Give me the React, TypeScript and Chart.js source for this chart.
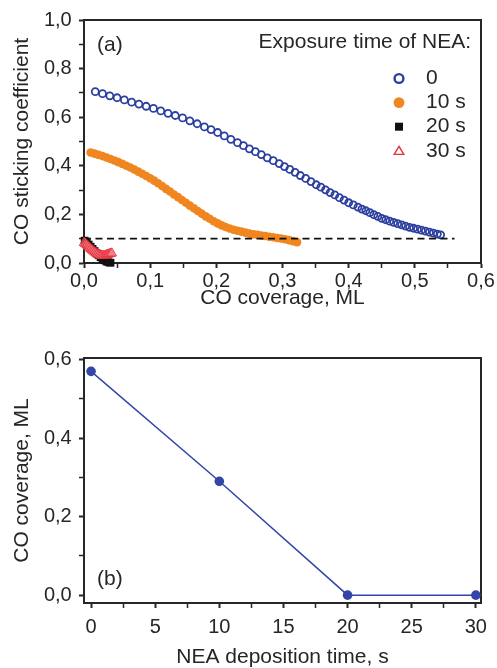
import React, { useEffect, useRef } from 'react';
import { Chart, registerables } from 'chart.js';

Chart.register(...registerables);

const FONT = '"Liberation Sans", Arial, sans-serif';
const INK = '#262626';

// (a) CO sticking coefficient versus CO coverage, for each NEA exposure time
const exposureLabels = ['0', '10 s', '20 s', '30 s'];
const legendTitle = 'Exposure time of NEA:';

const coverage0 = [0.017, 0.028, 0.039, 0.050, 0.061, 0.072, 0.083, 0.094, 0.105, 0.116, 0.127, 0.138, 0.149, 0.160, 0.171, 0.182, 0.192, 0.202, 0.212, 0.222, 0.232, 0.241, 0.250, 0.259, 0.268, 0.277, 0.286, 0.295, 0.303, 0.311, 0.319, 0.327, 0.335, 0.343, 0.351, 0.358, 0.365, 0.372, 0.379, 0.386, 0.393, 0.400, 0.407, 0.414, 0.420, 0.426, 0.432, 0.438, 0.444, 0.450, 0.456, 0.462, 0.468, 0.474, 0.480, 0.486, 0.492, 0.498, 0.504, 0.510, 0.516, 0.522, 0.528, 0.534, 0.539];
const sticking0 = [0.705, 0.697, 0.688, 0.680, 0.671, 0.662, 0.654, 0.645, 0.636, 0.626, 0.616, 0.607, 0.597, 0.585, 0.573, 0.560, 0.549, 0.537, 0.523, 0.509, 0.495, 0.483, 0.470, 0.458, 0.446, 0.433, 0.421, 0.409, 0.397, 0.385, 0.373, 0.360, 0.348, 0.335, 0.322, 0.312, 0.301, 0.290, 0.280, 0.269, 0.259, 0.248, 0.239, 0.230, 0.222, 0.215, 0.207, 0.199, 0.192, 0.184, 0.178, 0.172, 0.167, 0.162, 0.157, 0.152, 0.147, 0.143, 0.139, 0.135, 0.131, 0.127, 0.123, 0.119, 0.116];

const coverage10 = [0.010, 0.016, 0.022, 0.028, 0.034, 0.040, 0.046, 0.052, 0.058, 0.064, 0.070, 0.076, 0.082, 0.088, 0.094, 0.100, 0.106, 0.112, 0.118, 0.124, 0.130, 0.136, 0.142, 0.148, 0.154, 0.160, 0.166, 0.172, 0.178, 0.184, 0.190, 0.196, 0.202, 0.208, 0.214, 0.220, 0.226, 0.232, 0.238, 0.244, 0.250, 0.256, 0.262, 0.268, 0.274, 0.280, 0.286, 0.292, 0.298, 0.304, 0.310, 0.316, 0.322];
const sticking10 = [0.455, 0.450, 0.445, 0.440, 0.434, 0.428, 0.422, 0.415, 0.408, 0.400, 0.393, 0.385, 0.376, 0.367, 0.358, 0.349, 0.339, 0.328, 0.317, 0.305, 0.294, 0.282, 0.271, 0.259, 0.248, 0.236, 0.225, 0.214, 0.203, 0.192, 0.182, 0.172, 0.163, 0.155, 0.148, 0.142, 0.137, 0.133, 0.129, 0.125, 0.121, 0.118, 0.116, 0.113, 0.111, 0.108, 0.106, 0.103, 0.101, 0.098, 0.094, 0.090, 0.086];

const coverage20 = [0.001, 0.004, 0.007, 0.010, 0.013, 0.016, 0.019, 0.022, 0.025, 0.028, 0.031, 0.034, 0.037, 0.040];
const sticking20 = [0.092, 0.085, 0.076, 0.067, 0.058, 0.049, 0.040, 0.032, 0.024, 0.017, 0.011, 0.006, 0.003, 0.001];

const coverage30 = [0.000, 0.002, 0.004, 0.006, 0.008, 0.010, 0.012, 0.014, 0.016, 0.018, 0.020, 0.022, 0.024, 0.026, 0.028, 0.030, 0.032, 0.034, 0.036, 0.038, 0.040, 0.042];
const sticking30 = [0.083, 0.079, 0.074, 0.069, 0.064, 0.059, 0.054, 0.049, 0.045, 0.041, 0.037, 0.034, 0.032, 0.031, 0.030, 0.030, 0.031, 0.033, 0.035, 0.037, 0.039, 0.040];

const thresholdLevel = 0.1;
const thresholdSpan = [0, 0.56];

const coverageRange = [0, 0.6];
const stickingRange = [0, 1];
const coverageTicks = [0, 0.1, 0.2, 0.3, 0.4, 0.5, 0.6];
const coverageMinor = [0.05, 0.15, 0.25, 0.35, 0.45, 0.55];
const stickingTicks = [0, 0.2, 0.4, 0.6, 0.8, 1.0];
const stickingMinor = [0.1, 0.3, 0.5, 0.7, 0.9];

// (b) saturation CO coverage versus NEA deposition time
const depositionTime = [0, 10, 20, 30];
const saturationCoverage = [0.57, 0.29, 0, 0];
const timeRange = [-0.55, 30.4];
const saturationRange = [-0.02, 0.604];
const timeTicks = [0, 5, 10, 15, 20, 25, 30];
const timeMinor = [2.5, 7.5, 12.5, 17.5, 22.5, 27.5];
const saturationTicks = [0, 0.2, 0.4, 0.6];
const saturationMinor = [0.1, 0.3, 0.5];

const BLUE = '#2c3f9f';
const ORANGE = '#f0861f';
const BLACK = '#111111';
const RED = '#e8313c';

const pts = (xs: number[], ys: number[]) => xs.map((x, i) => ({ x, y: ys[i] }));
const comma = (digits: number) => (v: number) => v.toFixed(digits).replace('.', ',');
const isIn = (list: number[], v: number) => list.some((m) => Math.abs(m - v) < 1e-9);

// Top and right edges of the plot box, traced through the axis ranges
const boxDataset = (xr: number[], yr: number[]) => ({
  label: 'box',
  data: [
    { x: xr[0], y: yr[1] },
    { x: xr[1], y: yr[1] },
    { x: xr[1], y: yr[0] },
  ],
  showLine: true,
  pointRadius: 0,
  borderColor: INK,
  borderWidth: 2,
  borderCapStyle: 'square',
  clip: false,
  order: 10,
});

// Panel letter
const makeLetterPlugin = (letter: string, letterY: number) => ({
  id: 'panelLetter',
  afterDraw(chart: any) {
    const { ctx, chartArea } = chart;
    ctx.save();
    ctx.font = `21px ${FONT}`;
    ctx.fillStyle = INK;
    ctx.textAlign = 'left';
    ctx.textBaseline = 'middle';
    ctx.fillText(letter, chartArea.left + 13, letterY);
    ctx.restore();
  },
});

// Legend for panel (a): title plus one symbol and label per exposure time
const drawSymbol = (ctx: CanvasRenderingContext2D, kind: string, x: number, y: number) => {
  ctx.save();
  ctx.setLineDash([]);
  if (kind === 'ring') {
    ctx.strokeStyle = BLUE;
    ctx.lineWidth = 2.4;
    ctx.beginPath();
    ctx.arc(x, y, 4.4, 0, Math.PI * 2);
    ctx.stroke();
  } else if (kind === 'dot') {
    ctx.fillStyle = ORANGE;
    ctx.beginPath();
    ctx.arc(x, y, 5.4, 0, Math.PI * 2);
    ctx.fill();
  } else if (kind === 'square') {
    ctx.fillStyle = BLACK;
    ctx.fillRect(x - 4, y - 4, 8, 8);
  } else {
    ctx.strokeStyle = RED;
    ctx.lineWidth = 1.4;
    ctx.beginPath();
    ctx.moveTo(x, y - 4.5);
    ctx.lineTo(x + 4.8, y + 3.6);
    ctx.lineTo(x - 4.8, y + 3.6);
    ctx.closePath();
    ctx.stroke();
  }
  ctx.restore();
};

const legendPlugin = {
  id: 'exposureLegend',
  afterDraw(chart: any) {
    const { ctx } = chart;
    const kinds = ['ring', 'dot', 'square', 'triangle'];
    ctx.save();
    ctx.font = `21px ${FONT}`;
    ctx.fillStyle = INK;
    ctx.textBaseline = 'middle';
    ctx.textAlign = 'right';
    ctx.fillText(legendTitle, 471, 42.5);
    ctx.textAlign = 'left';
    exposureLabels.forEach((label, i) => {
      const y = 78.5 + i * 24.1;
      drawSymbol(ctx, kinds[i], 399, y);
      ctx.fillStyle = INK;
      ctx.fillText(label, 426, y);
    });
    ctx.restore();
  },
};

// Axis with labelled major ticks and unlabelled, thinner minor ticks
const axisBase = (range: number[], major: number[], minor: number[], fmt: (v: number) => string, pad: number) => ({
  type: 'linear' as const,
  min: range[0],
  max: range[1],
  afterBuildTicks: (scale: any) => {
    scale.ticks = [...major, ...minor].sort((a, b) => a - b).map((value) => ({ value }));
  },
  border: { display: true, color: INK, width: 2 },
  grid: {
    display: true,
    drawOnChartArea: false,
    drawTicks: true,
    tickLength: 5,
    tickColor: INK,
    tickWidth: (c: any) => (isIn(major, c.tick.value) ? 2 : 1.5),
  },
  ticks: {
    color: INK,
    font: { family: FONT, size: 20, lineHeight: 1.2 },
    padding: pad,
    callback: (v: any) => (isIn(major, Number(v)) ? fmt(Number(v)) : ''),
    maxRotation: 0,
    autoSkip: false,
  },
});

const titleOpts = (text: string, padding: any) => ({
  display: true,
  text,
  color: INK,
  font: { family: FONT, size: 21, lineHeight: 1 },
  padding,
});

const topConfig = (): any => ({
  type: 'scatter',
  data: {
    datasets: [
      {
        label: exposureLabels[3],
        data: pts(coverage30, sticking30),
        pointStyle: 'triangle',
        pointRadius: 5.5,
        pointBorderWidth: 1,
        pointBorderColor: 'rgba(232,49,60,0.9)',
        pointBackgroundColor: 'rgba(246,130,142,0.6)',
        order: 0,
        clip: false,
      },
      {
        label: exposureLabels[2],
        data: pts(coverage20, sticking20),
        pointStyle: 'rect',
        pointRadius: 5.5,
        pointBorderWidth: 0,
        pointBackgroundColor: BLACK,
        pointBorderColor: BLACK,
        order: 1,
        clip: false,
      },
      {
        label: 'threshold',
        data: [
          { x: thresholdSpan[0], y: thresholdLevel },
          { x: thresholdSpan[1], y: thresholdLevel },
        ],
        showLine: true,
        pointRadius: 0,
        borderColor: BLACK,
        borderWidth: 1.8,
        borderDash: [7, 4.5],
        order: 2,
      },
      {
        label: exposureLabels[1],
        data: pts(coverage10, sticking10),
        pointStyle: 'circle',
        pointRadius: 4.3,
        pointBorderWidth: 0,
        pointBackgroundColor: ORANGE,
        pointBorderColor: ORANGE,
        order: 3,
        clip: false,
      },
      {
        label: exposureLabels[0],
        data: pts(coverage0, sticking0),
        pointStyle: 'circle',
        pointRadius: 3.5,
        pointBorderWidth: 1.8,
        pointBackgroundColor: 'rgba(0,0,0,0)',
        pointBorderColor: BLUE,
        order: 4,
        clip: false,
      },
      boxDataset(coverageRange, stickingRange),
    ],
  },
  options: {
    responsive: false,
    animation: false,
    events: [],
    layout: { padding: { top: 20, right: 16, left: 0, bottom: 0 } },
    plugins: {
      legend: { display: false },
      tooltip: { enabled: false },
    },
    scales: {
      x: {
        ...axisBase(coverageRange, coverageTicks, coverageMinor, comma(1), 1),
        afterFit: (s: any) => { s.height = 312 - 263; },
        title: titleOpts('CO coverage, ML', { top: 0, bottom: 3.5 }),
      },
      y: {
        ...axisBase(stickingRange, stickingTicks, stickingMinor, comma(1), 7.3),
        afterFit: (s: any) => { s.width = 84; },
        title: titleOpts('CO sticking coefficient', { top: 11.5, bottom: 0 }),
      },
    },
  },
  plugins: [makeLetterPlugin('(a)', 45), legendPlugin],
});

const bottomConfig = (): any => ({
  type: 'scatter',
  data: {
    datasets: [
      {
        label: 'CO coverage',
        data: pts(depositionTime, saturationCoverage),
        showLine: true,
        borderColor: '#3445a8',
        borderWidth: 1.5,
        pointStyle: 'circle',
        pointRadius: 4.8,
        pointBorderWidth: 0,
        pointBackgroundColor: '#3445a8',
        clip: false,
        order: 0,
      },
      boxDataset(timeRange, saturationRange),
    ],
  },
  options: {
    responsive: false,
    animation: false,
    events: [],
    layout: { padding: { top: 46, right: 16, left: 0, bottom: 0 } },
    plugins: {
      legend: { display: false },
      tooltip: { enabled: false },
    },
    scales: {
      x: {
        ...axisBase(timeRange, timeTicks, timeMinor, (v: number) => String(Math.round(v)), 7.5),
        afterFit: (s: any) => { s.height = 356 - 291; },
        title: titleOpts('NEA deposition time, s', { top: 0, bottom: 0.5 }),
      },
      y: {
        ...axisBase(saturationRange, saturationTicks, saturationMinor, comma(1), 7.3),
        afterFit: (s: any) => { s.width = 84; },
        title: titleOpts('CO coverage, ML', { top: 11.5, bottom: 0 }),
      },
    },
  },
  plugins: [makeLetterPlugin('(b)', 267)],
});

export default function App() {
  const topRef = useRef<HTMLCanvasElement>(null);
  const bottomRef = useRef<HTMLCanvasElement>(null);

  useEffect(() => {
    const top = new Chart(topRef.current as HTMLCanvasElement, topConfig());
    const bottom = new Chart(bottomRef.current as HTMLCanvasElement, bottomConfig());
    return () => {
      top.destroy();
      bottom.destroy();
    };
  }, []);

  return (
    <div style={{ position: 'absolute', left: 0, top: 0, width: 497, height: 668, background: '#ffffff' }}>
      <canvas ref={topRef} width={497} height={312} style={{ display: 'block', width: 497, height: 312 }} />
      <canvas ref={bottomRef} width={497} height={356} style={{ display: 'block', width: 497, height: 356 }} />
    </div>
  );
}
